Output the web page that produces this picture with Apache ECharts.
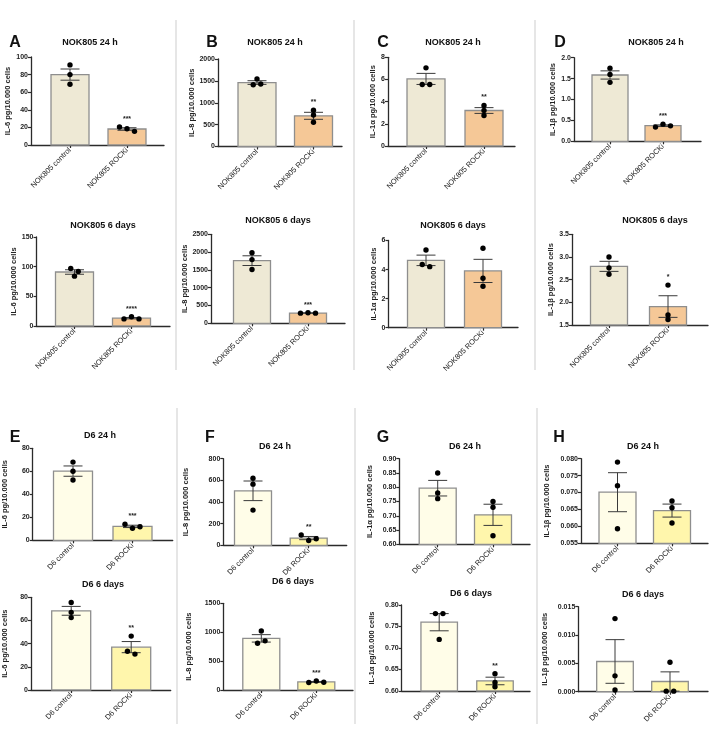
<!DOCTYPE html>
<html><head><meta charset="utf-8">
<script src="https://cdn.jsdelivr.net/npm/echarts@6/dist/echarts.min.js"></script>
<style>html,body{margin:0;padding:0;background:#fff}#c{width:709px;height:732px}</style>
</head><body><div id="c"></div>
<script>
// ---------------- DATA ----------------
const panelTitles = ['NOK805 24 h','NOK805 6 days','NOK805 24 h','NOK805 6 days','NOK805 24 h','NOK805 6 days','NOK805 24 h','NOK805 6 days',
                     'D6 24 h','D6 6 days','D6 24 h','D6 6 days','D6 24 h','D6 6 days','D6 24 h','D6 6 days'];
const yAxisNames = ['IL-6 pg/10.000 cells','IL-6 pg/10.000 cells','IL-8 pg/10.000 cells','IL-8 pg/10.000 cells',
                    'IL-1α pg/10.000 cells','IL-1α pg/10.000 cells','IL-1β pg/10.000 cells','IL-1β pg/10.000 cells',
                    'IL-6 pg/10.000 cells','IL-6 pg/10.000 cells','IL-8 pg/10.000 cells','IL-8 pg/10.000 cells',
                    'IL-1α pg/10.000 cells','IL-1α pg/10.000 cells','IL-1β pg/10.000 cells','IL-1β pg/10.000 cells'];
const nokCategories = ['NOK805 control','NOK805 ROCKi'];
const d6Categories = ['D6 control','D6 ROCKi'];
const panelLetters = ['A','B','C','D','E','F','G','H'];
const yMins      = [0,0,0,0,0,0,0,1.5, 0,0,0,0,0.6,0.6,0.055,0];
const yMaxs      = [100,150,2000,2500,8,6,2,3.5, 80,80,800,1500,0.9,0.8,0.08,0.015];
const yIntervals = [20,50,500,500,2,2,0.5,0.5, 20,20,200,500,0.05,0.05,0.005,0.005];
const yDecimals  = [0,0,0,0,0,0,1,1, 0,0,0,0,2,2,3,3];
const controlValues = [
  [91,80,69],[97,92,84],[1545,1410,1430],[1980,1790,1510],
  [7.05,5.55,5.55],[5.35,4.35,4.2],[1.75,1.6,1.41],[3.0,2.76,2.62],
  [68,60,52.5],[75.5,67,62.5],[620,565,325],[1020,810,850],
  [0.85,0.78,0.76],[0.78,0.78,0.72],[0.079,0.072,0.0593],[0.0129,0.0028,0.0003]
];
const rockiValues = [
  [20.5,18.5,15.5],[12,15.5,12],[830,720,555],[285,295,285],
  [3.65,3.2,2.75],[5.47,3.4,2.85],[0.34,0.41,0.37],[2.38,1.72,1.62],
  [14,10.5,11.8],[46.5,33.5,31],[95,45,60],[130,155,135],
  [0.75,0.73,0.63],[0.64,0.62,0.61],[0.0675,0.0655,0.061],[0.0052,0.0001,0.0001]
];
const significance = ['***','****','**','***','**','','***','*','***','**','**','***','','**','',''];

// ---------------- LAYOUT / STYLE ----------------
// [axisX, top, bottom, right, c1, c2, barW, nameOffset, titleX, titleY]
const layout = [
  [31,57,145,164,70,127,38,19,90,43],
  [36.5,237,326,170,74.5,131.5,38,22,103,226],
  [218,59,146.5,342,257,313.5,38,23,275,43],
  [211,234.3,323.3,345,252,308,37,22,278,221],
  [388,57.3,146,515,426,484,38,11,453,43],
  [388.5,240.5,327.7,518,426,483,37,11,453,226],
  [574,57.7,141.3,701,610,663,36,18,656,43],
  [572,234.3,325,708,609,668,37,20,655,221],
  [32.7,448.3,540.3,172.7,73,132.5,39,28,100,436],
  [31,597.3,690,170.7,71.2,131.2,39,26,103,585],
  [223.3,458.7,545.3,346.7,253,308.7,37,37,275,447],
  [223.3,603.3,690,353,261.3,316.3,37,34,293,582],
  [399.3,458.7,544.3,530,437.7,493,37,29,465,447],
  [401.7,605,691,530,439.2,495,36.5,30,471,594],
  [581,458.7,543.3,708,617.5,672,37,34,643,447],
  [578.3,606.7,691.7,708,615,670,36.6,33,643,595]
];
const letterPos = [[15,43],[212,43],[383,43],[560,43],[15,438],[210,438],[383,438],[559,438]];
const FONT = '"Liberation Sans", Arial, sans-serif';
const nokColors = ['#EEE9D5','#F5C897'];
const d6Colors = ['#FFFDE8','#FFF6AC'];

function stats(v){
  const n=v.length, m=v.reduce((a,b)=>a+b,0)/n;
  const sd=Math.sqrt(v.reduce((a,b)=>a+(b-m)*(b-m),0)/(n-1));
  return {mean:m, sem:sd/Math.sqrt(n)};
}
function dotOffsets(pys){
  const n=pys.length, idx=[...Array(n).keys()].sort((a,b)=>pys[a]-pys[b]);
  const offs=new Array(n).fill(0); const SP=7.5;
  let cl=[idx[0]];
  const flush=()=>{const c=cl.slice().sort((a,b)=>a-b); c.forEach((k,i)=>offs[k]=(i-(c.length-1)/2)*SP);};
  for(let i=1;i<n;i++){ if(pys[idx[i]]-pys[idx[i-1]]<4) cl.push(idx[i]); else {flush(); cl=[idx[i]];} }
  flush();
  return offs;
}

const grids=[], xAxes=[], yAxes=[], series=[], graphics=[];
for(let i=0;i<16;i++){
  const L=layout[i];
  const [ax,top,bot,right,c1,c2,bw,nOff]=L;
  const sp=c2-c1;
  const cats = i<8 ? nokCategories : d6Categories;
  const cols = i<8 ? nokColors : d6Colors;
  grids.push({left:ax, top:top, width:right-ax, height:bot-top, containLabel:false, outerBoundsMode:'none'});
  xAxes.push({type:'value', gridIndex:i, min:-(c1-ax)/sp, max:1+(right-c2)/sp,
    axisLine:{show:true, onZero:false, lineStyle:{color:'#2b2b2b', width:1.3}},
    axisTick:{show:true, customValues:[0,1], length:3, lineStyle:{color:'#2b2b2b', width:1.2}},
    axisLabel:{show:true, customValues:[0,1], rotate:45, margin:4, fontSize:7.5, color:'#222', fontFamily:FONT,
      overflow:'none', width:300, hideOverlap:false,
      formatter:(v)=>cats[Math.round(v)]},
    splitLine:{show:false}});
  const dec=yDecimals[i];
  yAxes.push({type:'value', gridIndex:i, min:yMins[i], max:yMaxs[i], interval:yIntervals[i],
    name:yAxisNames[i], nameLocation:'middle', nameRotate:90, nameGap:nOff-4,
    nameTextStyle:{fontSize:7.5, fontWeight:'bold', color:'#222', fontFamily:FONT},
    axisLine:{show:true, onZero:false, lineStyle:{color:'#2b2b2b', width:1.3}},
    axisTick:{show:true, length:3, lineStyle:{color:'#2b2b2b', width:1.2}},
    axisLabel:{fontSize:7, fontWeight:'bold', color:'#222', margin:3, fontFamily:FONT, formatter:(v)=>v.toFixed(dec)},
    splitLine:{show:false}});
  const groups=[controlValues[i], rockiValues[i]];
  const st=groups.map(stats);
  const ymin=yMins[i], star=significance[i];
  series.push({type:'custom', xAxisIndex:i, yAxisIndex:i, clip:false,
    data:[[0, st[0].mean],[1, st[1].mean]], encode:{x:0, y:1},
    renderItem:(params, api)=>{
      const g=api.value(0); const s=st[g]; const vals=groups[g];
      const base=api.coord([g, ymin]); const topP=api.coord([g, s.mean]);
      const cx=base[0];
      const ch=[];
      ch.push({type:'rect', shape:{x:cx-bw/2, y:topP[1], width:bw, height:base[1]-topP[1]},
        style:{fill:cols[g], stroke:'#8e8e8e', lineWidth:1.3}});
      const hi=api.coord([g, s.mean+s.sem])[1];
      const lo=api.coord([g, Math.max(ymin, s.mean-s.sem)])[1];
      const cw=9.5;
      ch.push({type:'line', shape:{x1:cx, y1:hi, x2:cx, y2:lo}, style:{stroke:'#3a3a3a', lineWidth:1}});
      ch.push({type:'line', shape:{x1:cx-cw, y1:hi, x2:cx+cw, y2:hi}, style:{stroke:'#3a3a3a', lineWidth:1}});
      ch.push({type:'line', shape:{x1:cx-cw, y1:lo, x2:cx+cw, y2:lo}, style:{stroke:'#3a3a3a', lineWidth:1}});
      const pys=vals.map(v=>api.coord([g, v])[1]);
      const offs=dotOffsets(pys);
      pys.forEach((py,k)=>ch.push({type:'circle', shape:{cx:cx+offs[k], cy:py, r:2.7}, style:{fill:'#000'}}));
      if(g===1 && star){
        const topMost=Math.min(hi, ...pys);
        ch.push({type:'text', style:{x:cx, y:topMost-8, text:star, align:'center', verticalAlign:'middle',
          fontSize:7, fontWeight:'bold', fill:'#222', fontFamily:FONT}});
      }
      return {type:'group', children:ch};
    }});
  graphics.push({type:'text', x:L[8], y:L[9], style:{text:panelTitles[i], align:'center', verticalAlign:'middle',
    fontSize:9, fontWeight:'bold', fill:'#111', fontFamily:FONT}});
}
panelLetters.forEach((t,k)=>graphics.push({type:'text', x:letterPos[k][0], y:letterPos[k][1],
  style:{text:t, align:'center', verticalAlign:'middle', fontSize:16, fontWeight:'bold', fill:'#111', fontFamily:FONT}}));
[[176,20,370],[354,20,370],[535,20,370],[177,408,724],[355,408,724],[537,408,724]].forEach(s=>
  graphics.push({type:'line', shape:{x1:s[0], y1:s[1], x2:s[0], y2:s[2]}, style:{stroke:'#d6d6d6', lineWidth:1.2}}));

const chart=echarts.init(document.getElementById('c'), null, {renderer:'canvas'});
chart.setOption({animation:false, backgroundColor:'#fff', grid:grids, xAxis:xAxes, yAxis:yAxes, series:series, graphic:graphics});
</script></body></html>
